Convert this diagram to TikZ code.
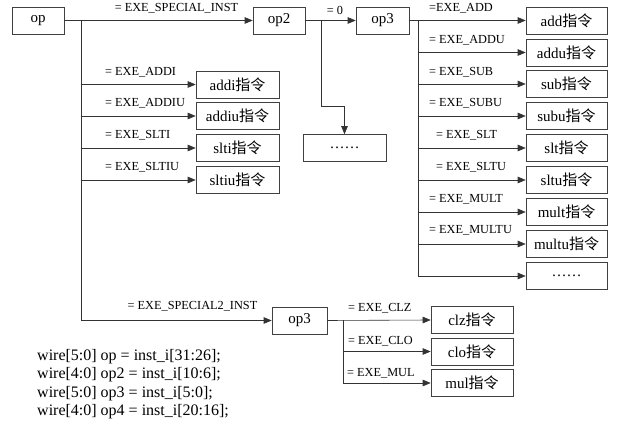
\documentclass[tikz,border=0pt]{standalone}
\usepackage{fontspec}
\setmainfont{Liberation Serif}
\newfontfamily\cjk{Noto Sans CJK SC}
\usetikzlibrary{arrows.meta}
\newcommand{\zl}{{\cjk 指令}}
\begin{document}
\begin{tikzpicture}[x=1pt,y=-1pt,
  box/.style={draw=black!75, line width=0.6pt, minimum height=27pt, inner sep=0pt, font=\fontsize{15}{15}\selectfont},
  lbl/.style={font=\fontsize{12.3}{12.3}\selectfont, inner sep=0pt, anchor=west},
  conn/.style={line width=0.6pt, draw=black!80},
  arr/.style={conn, -{Triangle[length=8pt,width=6.5pt]}}]
\useasboundingbox (0,0) rectangle (618,427);
\fill[white] (0,0) rectangle (618,427);

% top row
\node[box, minimum width=52pt] (op) at (38,20.5) {op};
\node[box, minimum width=52pt] (op2) at (279,20.5) {op2};
\node[box, minimum width=53pt] (op3a) at (382.5,20.5) {op3};
\node[box, minimum width=83pt] (dotsa) at (344.5,148) {……};

% left column boxes
\node[box, minimum width=83pt] (addi) at (237.5,84.5) {addi\zl};
\node[box, minimum width=83pt] (addiu) at (237.5,116) {addiu\zl};
\node[box, minimum width=83pt] (slti) at (237.5,148) {slti\zl};
\node[box, minimum width=83pt] (sltiu) at (237.5,180) {sltiu\zl};

% right column boxes
\node[box, minimum width=81pt] (add) at (566.5,20.5) {add\zl};
\node[box, minimum width=81pt] (addu) at (566.5,52.5) {addu\zl};
\node[box, minimum width=81pt] (sub) at (566.5,84) {sub\zl};
\node[box, minimum width=81pt] (subu) at (566.5,116) {subu\zl};
\node[box, minimum width=81pt] (slt) at (566.5,148) {slt\zl};
\node[box, minimum width=81pt] (sltu) at (566.5,180) {sltu\zl};
\node[box, minimum width=81pt] (mult) at (566.5,212) {mult\zl};
\node[box, minimum width=81pt] (multu) at (566.5,244) {multu\zl};
\node[box, minimum width=81pt] (dotsb) at (566.5,276) {……};

% bottom
\node[box, minimum width=55pt] (op3b) at (299.5,320.5) {op3};
\node[box, minimum width=82pt] (clz) at (472,320) {clz\zl};
\node[box, minimum width=82pt] (clo) at (472,351.5) {clo\zl};
\node[box, minimum width=82pt] (mul) at (472,383) {mul\zl};

% branch coordinates
\coordinate (ba) at (81,20.5);
\coordinate (bb) at (81,320.5);
\coordinate (c1) at (321,20.5);
\coordinate (c2) at (321,106);
\coordinate (r1) at (418,20.5);
\coordinate (r2) at (418,276);
\coordinate (d1) at (343,320);
\coordinate (d2) at (343,383);

% connectors
\draw[arr] (op.east) -- (op2.west);
\draw[arr] (op2.east) -- (op3a.west);
\draw[arr] (op3a.east) -- (add.west);
\draw[conn] (ba) -- (bb);
\draw[arr] (bb) -- (op3b.west);
\foreach \n in {addi,addiu,slti,sltiu} \draw[arr] (ba |- \n.west) -- (\n.west);
\draw[arr] (c1) -- (c2) -| (dotsa.north);
\draw[conn] (r1) -- (r2);
\foreach \n in {addu,sub,subu,slt,sltu,mult,multu,dotsb} \draw[arr] (r1 |- \n.west) -- (\n.west);
\draw[arr] (op3b.east) -- (clz.west);
\draw[conn] (d1) -- (d2);
\foreach \n in {clo,mul} \draw[arr] (d1 |- \n.west) -- (\n.west);

% labels
\node[lbl, anchor=center] (l0) at (176.5,8) {= EXE\_SPECIAL\_INST};
\node[lbl, anchor=center] (l00) at (335,10) {= 0};
\node[lbl] (la1) at (105,72) {= EXE\_ADDI};
\node[lbl] (la2) at (105,103) {= EXE\_ADDIU};
\node[lbl] (la3) at (105,135) {= EXE\_SLTI};
\node[lbl] (la4) at (105,167) {= EXE\_SLTIU};
\node[lbl] (lr1) at (429,8) {=EXE\_ADD};
\node[lbl] (lr2) at (429,40) {= EXE\_ADDU};
\node[lbl] (lr3) at (429,72) {= EXE\_SUB};
\node[lbl] (lr4) at (429,103) {= EXE\_SUBU};
\node[lbl] (lr5) at (436,135) {= EXE\_SLT};
\node[lbl] (lr6) at (436,167) {= EXE\_SLTU};
\node[lbl] (lr7) at (429,199) {= EXE\_MULT};
\node[lbl] (lr8) at (429,230) {= EXE\_MULTU};
\node[lbl, anchor=center] (ls2) at (192.5,306) {= EXE\_SPECIAL2\_INST};
\node[lbl] (lb1) at (348,308) {= EXE\_CLZ};
\node[lbl] (lb2) at (348,341) {= EXE\_CLO};
\node[lbl] (lb3) at (347,373) {= EXE\_MUL};

% wire text
\node[anchor=north west, inner sep=0pt, align=left, font=\fontsize{16}{18.5}\selectfont] (wires) at (37,349) {wire[5:0] op = inst\_i[31:26];\\wire[4:0] op2 = inst\_i[10:6];\\wire[5:0] op3 = inst\_i[5:0];\\wire[4:0] op4 = inst\_i[20:16];};
\end{tikzpicture}
\end{document}
